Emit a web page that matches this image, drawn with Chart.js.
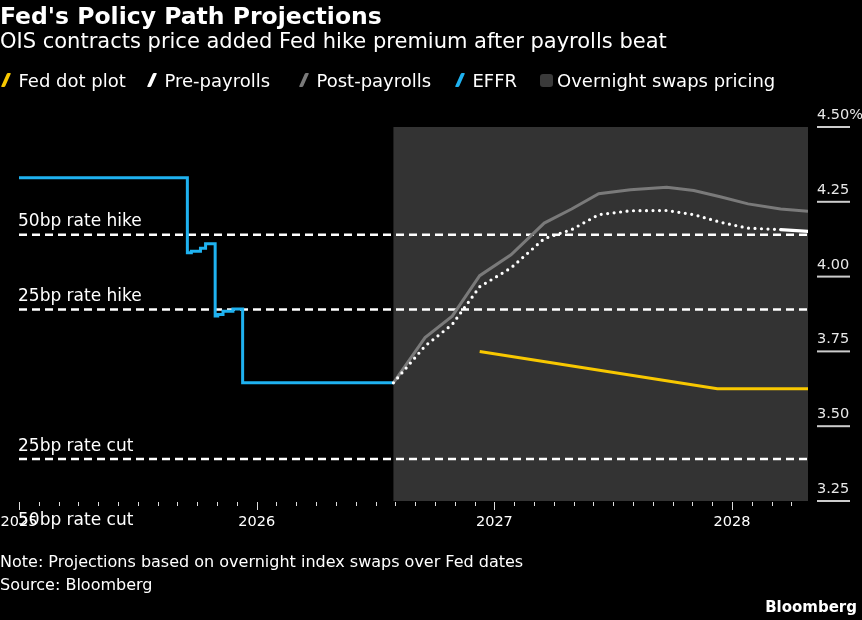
<!DOCTYPE html>
<html>
<head>
<meta charset="utf-8">
<script src="https://cdn.jsdelivr.net/npm/chart.js@4"></script>
<style>
  html, body { margin: 0; padding: 0; background: #000; }
  body { width: 862px; height: 620px; position: relative; overflow: hidden;
         font-family: "DejaVu Sans", sans-serif; color: #fff; }
  #wrap { position: absolute; left: 0; top: 0; width: 862px; height: 620px; }
  .txt { position: absolute; left: 0; white-space: nowrap; }
  #title { top: 2px; font-size: 23.5px; font-weight: bold; }
  #subtitle { top: 29px; font-size: 21px; }
  #legend { top: 69px; left: 0; width: 862px; height: 24px; font-size: 18px; }
  .item { position: absolute; top: 0; display: flex; align-items: center; height: 22px; }
  .slash { width: 3.5px; height: 14px; margin-right: 11px; transform: skewX(-24deg); border-radius: 1px; }
  .box { width: 13px; height: 13px; border-radius: 3px; margin-right: 4px; background: #3a3a3a; }
  #note { top: 552px; font-size: 16px; }
  #source { top: 575px; font-size: 16px; }
  #brand { top: 598px; left: auto; right: 5px; font-size: 15px; font-weight: bold; }
</style>
</head>
<body>
<div id="wrap"><canvas id="chart" width="862" height="620"></canvas></div>
<div class="txt" id="title">Fed's Policy Path Projections</div>
<div class="txt" id="subtitle">OIS contracts price added Fed hike premium after payrolls beat</div>
<div class="txt" id="legend"></div>
<div class="txt" id="note">Note: Projections based on overnight index swaps over Fed dates</div>
<div class="txt" id="source">Source: Bloomberg</div>
<div class="txt" id="brand">Bloomberg</div>
<script>
// Effective fed funds rate (daily fixings, step changes only)
const effrDates = ["2025-01-01", "2025-09-16", "2025-09-22", "2025-10-06", "2025-10-14",
  "2025-10-29", "2025-11-02", "2025-11-10", "2025-11-25", "2025-12-10", "2026-07-29"];
const effrValues = [4.33, 4.08, 4.085, 4.095, 4.11, 3.868, 3.873, 3.884, 3.892, 3.645, 3.645];

// OIS implied rate over Fed meeting dates
const fomcDates = ["2026-07-29", "2026-09-16", "2026-10-28", "2026-12-09", "2027-01-27",
  "2027-03-17", "2027-04-28", "2027-06-09", "2027-07-28", "2027-09-22", "2027-11-03",
  "2027-12-15", "2028-01-26", "2028-03-15", "2028-04-26"];
const postPayrolls = [3.645, 3.796, 3.868, 4.003, 4.073, 4.179, 4.226, 4.277, 4.29, 4.299,
  4.288, 4.266, 4.243, 4.226, 4.218];
const prePayrolls = [3.645, 3.768, 3.84, 3.966, 4.029, 4.127, 4.157, 4.207, 4.22, 4.221,
  4.207, 4.181, 4.162, 4.157, 4.151];

// Fed dot plot median
const dotDates = ["2026-12-09", "2027-12-09", "2028-04-26"];
const dotValues = [3.75, 3.625, 3.625];

// reference lines relative to current rate
const rateLevels = [4.14, 3.89, 3.39, 3.14];
const rateLabels = ["50bp rate hike", "25bp rate hike", "25bp rate cut", "50bp rate cut"];

const swapsStart = "2026-07-29";
const axisEnd = "2028-04-26";
const yearLabels = ["2025", "2026", "2027", "2028"];
const yTicks = [4.5, 4.25, 4.0, 3.75, 3.5, 3.25];

const colors = { dot: "#f8c800", pre: "#ffffff", post: "#7a7a7a", effr: "#1fb2f0", swaps: "#333333" };

// months since Jan 2025
function toMonths(d) {
  const [y, m, day] = d.split("-").map(Number);
  const dim = new Date(y, m, 0).getDate();
  return (y - 2025) * 12 + (m - 1) + (day - 1) / dim;
}
const pts = (dates, vals) => dates.map((d, i) => ({ x: toMonths(d), y: vals[i] }));
const xMax = toMonths(axisEnd);

// legend
const legendItems = [
  ["Fed dot plot", colors.dot, 4], ["Pre-payrolls", colors.pre, 150], ["Post-payrolls", colors.post, 302],
  ["EFFR", colors.effr, 458], ["Overnight swaps pricing", null, 540]
];
document.getElementById("legend").innerHTML = legendItems.map(([t, c, left]) =>
  `<span class="item" style="left:${left}px">${c ? `<span class="slash" style="background:${c}"></span>` : `<span class="box"></span>`}${t}</span>`
).join("");

const FONT = '"DejaVu Sans", sans-serif';

const decor = {
  id: "decor",
  beforeDatasetsDraw(chart) {
    const { ctx, chartArea: a, scales: { x } } = chart;
    const x0 = x.getPixelForValue(toMonths(swapsStart));
    ctx.save();
    ctx.fillStyle = colors.swaps;
    ctx.fillRect(x0, a.top, a.right - x0, a.bottom - a.top);
    ctx.restore();
  },
  afterDraw(chart) {
    const { ctx, chartArea: a, scales: { x, y } } = chart;
    ctx.save();
    // x ticks, monthly
    ctx.strokeStyle = "#dddddd";
    ctx.lineWidth = 1;
    for (let m = 0; m <= Math.floor(xMax); m++) {
      const px = Math.round(x.getPixelForValue(m)) + 0.5;
      ctx.beginPath();
      ctx.moveTo(px, a.bottom + 1);
      ctx.lineTo(px, a.bottom + (m % 12 === 0 ? 9 : 5));
      ctx.stroke();
    }
    ctx.fillStyle = "#ffffff";
    ctx.font = "14.5px " + FONT;
    ctx.textAlign = "center";
    ctx.textBaseline = "middle";
    yearLabels.forEach((t, i) => ctx.fillText(t, x.getPixelForValue(i * 12), a.bottom + 21));

    // rate labels
    ctx.font = "17px " + FONT;
    ctx.textAlign = "left";
    rateLevels.forEach((v, i) => ctx.fillText(rateLabels[i], a.left - 1, y.getPixelForValue(v) - 13));

    // right axis
    ctx.font = "14.5px " + FONT;
    ctx.textBaseline = "alphabetic";
    yTicks.forEach((v, i) => {
      const py = y.getPixelForValue(v);
      ctx.fillStyle = "#e8e8e8";
      ctx.fillText(v.toFixed(2) + (i === 0 ? "%" : ""), a.right + 9, py - 8);
      ctx.fillStyle = "#cccccc";
      ctx.fillRect(a.right + 9, py - 1, 33, 2);
    });
    ctx.restore();
  }
};

const lineDs = (label, data, color, extra) => Object.assign({
  label, data, borderColor: color, borderWidth: 3, pointRadius: 0, fill: false, tension: 0
}, extra || {});

const lastPre = prePayrolls.length - 1;
new Chart(document.getElementById("chart"), {
  type: "line",
  data: {
    datasets: [
      lineDs("Fed dot plot", pts(dotDates, dotValues), colors.dot),
      lineDs("Pre-payrolls", pts(fomcDates, prePayrolls), colors.pre, {
        borderDash: [0, 6.5], borderCapStyle: "round", borderWidth: 3.2,
        segment: { borderDash: c => c.p1DataIndex === lastPre ? [] : undefined }
      }),
      lineDs("Post-payrolls", pts(fomcDates, postPayrolls), colors.post),
      lineDs("EFFR", pts(effrDates, effrValues), colors.effr, { stepped: true }),
      ...rateLevels.map((v, i) => lineDs(rateLabels[i], [{ x: 0, y: v }, { x: xMax, y: v }], "#ffffff", {
        borderWidth: 2.5, borderDash: [8, 5]
      }))
    ]
  },
  options: {
    responsive: false,
    animation: false,
    layout: { padding: { left: 19, right: 54, top: 127, bottom: 119 } },
    scales: {
      x: { type: "linear", display: false, min: 0, max: xMax },
      y: { type: "linear", display: false, min: 3.25, max: 4.5 }
    },
    plugins: { legend: { display: false }, tooltip: { enabled: false } }
  },
  plugins: [decor]
});
</script>
</body>
</html>
